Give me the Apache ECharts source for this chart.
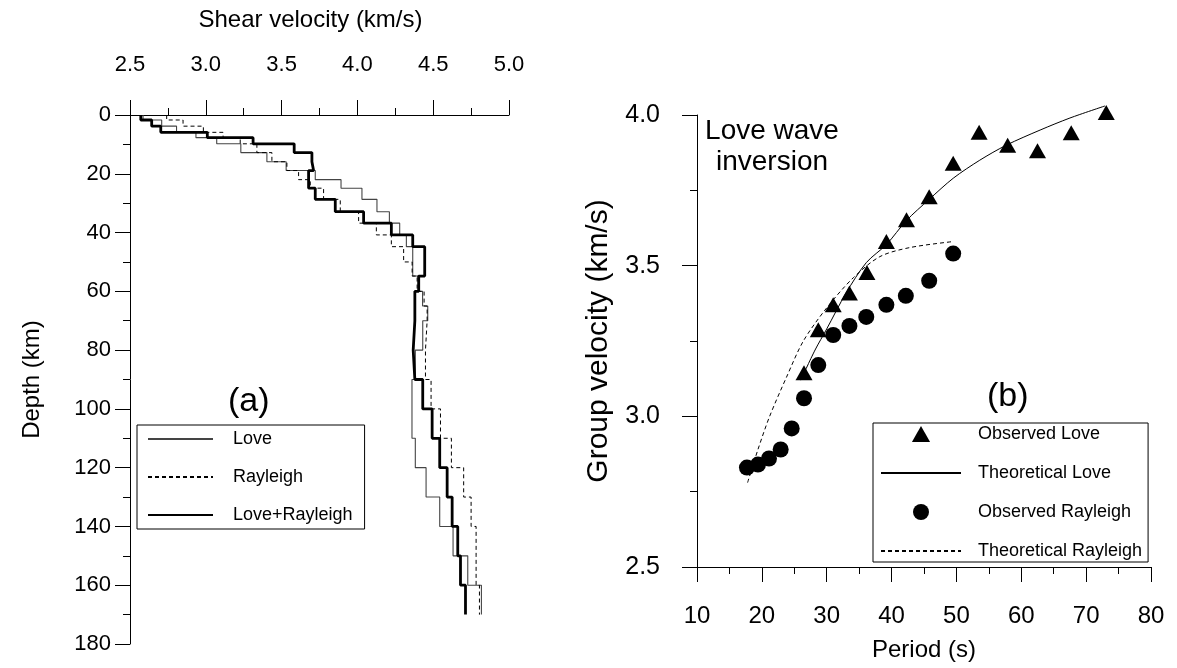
<!DOCTYPE html>
<html><head><meta charset="utf-8">
<script src="https://cdn.jsdelivr.net/npm/echarts@6/dist/echarts.min.js"></script>
<style>html,body{margin:0;padding:0;background:#fff}#c{width:1177px;height:668px}</style>
</head><body><div id="c"></div>
<script>
// ---- Panel (a): shear-velocity profiles (layer tops in km, velocity in km/s) ----
const layerTops = [0, 1.7, 3.8, 5.9, 7.7, 9.8, 12.8, 15.9, 18.9, 22, 24.9, 28.7, 32.9, 36.8, 40.8, 44.8, 50, 54.8, 60, 65, 70, 80, 90, 100, 110, 120, 130, 140, 150, 160];
const layerBottom = 170;
const velLove = [2.586, 2.709, 2.807, 2.935, 3.072, 3.231, 3.403, 3.530, 3.722, 3.892, 4.030, 4.129, 4.211, 4.279, 4.323, 4.365, 4.365, 4.410, 4.430, 4.464, 4.431, 4.382, 4.360, 4.360, 4.382, 4.453, 4.543, 4.631, 4.728, 4.818];
const velRayleigh = [2.742, 2.850, 2.984, 3.114, 3.227, 3.337, 3.436, 3.535, 3.612, 3.689, 3.777, 3.887, 4.008, 4.125, 4.224, 4.305, 4.361, 4.394, 4.440, 4.460, 4.449, 4.449, 4.486, 4.548, 4.620, 4.701, 4.750, 4.783, 4.783, 4.805];
const velJoint = [2.571, 2.643, 2.703, 3.010, 3.312, 3.583, 3.700, 3.711, 3.678, 3.678, 3.722, 3.854, 4.041, 4.224, 4.365, 4.444, 4.444, 4.404, 4.379, 4.379, 4.368, 4.379, 4.431, 4.493, 4.543, 4.592, 4.625, 4.662, 4.680, 4.713];

// ---- Panel (b): group-velocity dispersion ----
const periodObsLove = [26.5, 28.7, 31.0, 33.5, 36.2, 39.2, 42.3, 45.8, 49.5, 53.5, 57.9, 62.5, 67.7, 73.1];
const velObsLove    = [3.145, 3.287, 3.370, 3.409, 3.477, 3.580, 3.652, 3.729, 3.840, 3.943, 3.900, 3.881, 3.941, 4.008];
const periodThLove  = [26.0, 28.2, 30.0, 33.0, 36.1, 39.2, 42.3, 45.8, 49.5, 53.6, 57.7, 62.9, 67.5, 72.9];
const velThLove     = [3.12, 3.22, 3.29, 3.41, 3.51, 3.57, 3.65, 3.72, 3.79, 3.85, 3.90, 3.95, 3.99, 4.03];
const periodObsRay  = [17.7, 19.4, 21.1, 22.9, 24.6, 26.5, 28.7, 31.0, 33.5, 36.1, 39.2, 42.2, 45.8, 49.5];
const velObsRay     = [2.83, 2.84, 2.86, 2.89, 2.96, 3.06, 3.17, 3.27, 3.30, 3.33, 3.37, 3.40, 3.45, 3.54];
const periodThRay   = [17.8, 19.4, 21.2, 23.8, 26.4, 30.0, 34.1, 38.2, 42.8, 49.5];
const velThRay      = [2.78, 2.89, 3.00, 3.13, 3.25, 3.36, 3.46, 3.53, 3.56, 3.58];

const FONT = 'Liberation Sans, Arial, sans-serif';

function stepProfile(vels) {
  const pts = [];
  for (let i = 0; i < vels.length; i++) {
    const top = layerTops[i];
    const bot = i + 1 < layerTops.length ? layerTops[i + 1] : layerBottom;
    pts.push([vels[i], top]);
    pts.push([vels[i], bot]);
  }
  return pts;
}
function zip(a, b) { return a.map((v, i) => [v, b[i]]); }

const chart = echarts.init(document.getElementById('c'), null, {renderer: 'canvas'});

function axisBase(labelSize, nameSize) {
  return {
    axisLine: {show: true, lineStyle: {color: '#000', width: 1}},
    axisTick: {show: true, inside: false, length: 15, lineStyle: {color: '#000'}},
    minorTick: {show: true, splitNumber: 2, length: 7, lineStyle: {color: '#000'}},
    splitLine: {show: false},
    minorSplitLine: {show: false},
    axisLabel: {color: '#000', fontSize: labelSize, fontFamily: FONT},
    nameTextStyle: {color: '#000', fontSize: nameSize, fontFamily: FONT}
  };
}
function withLabel(base, extra) {
  base.axisLabel = Object.assign(base.axisLabel, extra);
  return base;
}

const hideSym = {opacity: 0};
const triPath = 'path://M50,0L100,88L0,88Z';

const topAxis = withLabel(axisBase(22, 24), {margin: 39, formatter: v => v.toFixed(1)});
topAxis.nameTextStyle.padding = [0, 18, 0, 0];

const option = {
  backgroundColor: '#fff',
  animation: false,
  textStyle: {fontFamily: FONT},
  grid: [
    {left: 130, top: 115, right: 668, bottom: 24},
    {left: 697, top: 115, right: 26, bottom: 101}
  ],
  xAxis: [
    Object.assign(topAxis, {
      gridIndex: 0, type: 'value', position: 'top', min: 2.5, max: 5.0, interval: 0.5,
      name: 'Shear velocity (km/s)', nameLocation: 'middle', nameGap: 83
    }),
    Object.assign(withLabel(axisBase(24, 24), {margin: 37}), {
      gridIndex: 1, type: 'value', position: 'bottom', min: 10, max: 80, interval: 10,
      name: 'Period (s)', nameLocation: 'middle', nameGap: 71
    })
  ],
  yAxis: [
    Object.assign(withLabel(axisBase(22, 24), {margin: 19}), {
      gridIndex: 0, type: 'value', inverse: true, min: 0, max: 180, interval: 20,
      name: 'Depth (km)', nameLocation: 'middle', nameGap: 86
    }),
    Object.assign(withLabel(axisBase(25, 30), {margin: 37, formatter: v => v.toFixed(1)}), {
      gridIndex: 1, type: 'value', min: 2.5, max: 4.0, interval: 0.5,
      name: 'Group velocity (km/s)', nameLocation: 'middle', nameGap: 83
    })
  ],
  legend: [
    {
      orient: 'vertical', left: 137, top: 425,
      padding: [5, 12, 5, 10], itemGap: 20, itemWidth: 65, itemHeight: 14,
      borderColor: '#000', borderWidth: 1, itemStyle: hideSym,
      textStyle: {color: '#000', fontSize: 18, fontFamily: FONT, padding: [0, 0, 0, 15]},
      data: ['Love', 'Rayleigh', 'Love+Rayleigh']
    },
    {
      orient: 'vertical', left: 873, top: 423,
      padding: [2, 6, 2, 7], itemGap: 21, itemWidth: 80, itemHeight: 16,
      borderColor: '#000', borderWidth: 1, symbolKeepAspect: true,
      textStyle: {color: '#000', fontSize: 18, fontFamily: FONT, padding: [0, 0, 0, 12]},
      data: [
        {name: 'Observed Love', icon: triPath},
        {name: 'Theoretical Love', itemStyle: hideSym},
        {name: 'Observed Rayleigh', icon: 'circle'},
        {name: 'Theoretical Rayleigh', itemStyle: hideSym}
      ]
    }
  ],
  graphic: [
    {type: 'text', left: 228, top: 385, style: {text: '(a)', fontSize: 34, fontFamily: FONT, fill: '#000'}},
    {type: 'text', left: 987, top: 380, style: {text: '(b)', fontSize: 34, fontFamily: FONT, fill: '#000'}},
    {type: 'text', x: 772, y: 116, style: {text: 'Love wave\ninversion', fontSize: 28, lineHeight: 31, align: 'center', verticalAlign: 'top', fontFamily: FONT, fill: '#000'}},
    // axis-line overhangs seen in the original figure
    {type: 'line', shape: {x1: 115, y1: 115.5, x2: 130, y2: 115.5}, style: {stroke: '#000', lineWidth: 1}},
    {type: 'line', shape: {x1: 682, y1: 567.5, x2: 697, y2: 567.5}, style: {stroke: '#000', lineWidth: 1}},
    {type: 'line', shape: {x1: 697.5, y1: 567, x2: 697.5, y2: 573}, style: {stroke: '#000', lineWidth: 1}}
  ],
  series: [
    {name: 'Love', type: 'line', xAxisIndex: 0, yAxisIndex: 0, data: stepProfile(velLove), symbol: 'none',
     color: '#444', lineStyle: {color: '#444', width: 1.1}},
    {name: 'Rayleigh', type: 'line', xAxisIndex: 0, yAxisIndex: 0, data: stepProfile(velRayleigh), symbol: 'none',
     color: '#000', lineStyle: {color: '#000', width: 1, type: [4, 3]}},
    {name: 'Love+Rayleigh', type: 'line', xAxisIndex: 0, yAxisIndex: 0, data: stepProfile(velJoint), symbol: 'none',
     color: '#000', lineStyle: {color: '#000', width: 2.8}},
    {name: 'Observed Love', type: 'scatter', xAxisIndex: 1, yAxisIndex: 1, data: zip(periodObsLove, velObsLove),
     symbol: 'triangle', symbolSize: [17, 15], clip: false, color: '#000', itemStyle: {color: '#000', opacity: 1}},
    {name: 'Theoretical Love', type: 'line', xAxisIndex: 1, yAxisIndex: 1, data: zip(periodThLove, velThLove),
     symbol: 'none', smooth: 0.3, clip: false, color: '#000', lineStyle: {color: '#000', width: 1}},
    {name: 'Observed Rayleigh', type: 'scatter', xAxisIndex: 1, yAxisIndex: 1, data: zip(periodObsRay, velObsRay),
     symbol: 'circle', symbolSize: 16, color: '#000', itemStyle: {color: '#000', opacity: 1}},
    {name: 'Theoretical Rayleigh', type: 'line', xAxisIndex: 1, yAxisIndex: 1, data: zip(periodThRay, velThRay),
     symbol: 'none', smooth: 0.3, color: '#000', lineStyle: {color: '#000', width: 1, type: [4, 3]}}
  ]
};
chart.setOption(option);
</script></body></html>
